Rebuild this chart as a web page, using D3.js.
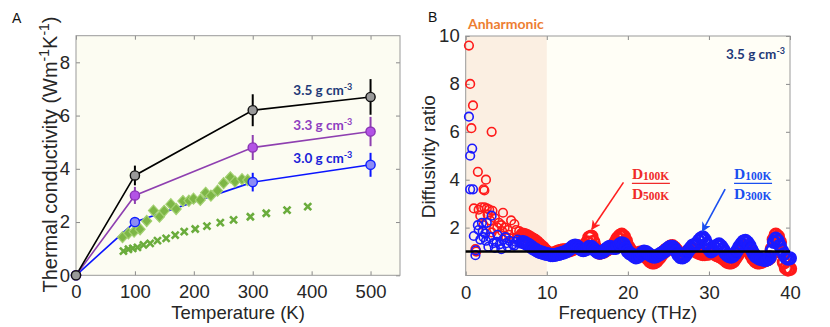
<!DOCTYPE html>
<html><head><meta charset="utf-8">
<script src="https://cdn.jsdelivr.net/npm/d3@7"></script>
<style>body{margin:0;background:#fff}</style>
</head><body><svg id="c" width="830" height="327"></svg>
<script>
// ---------- Panel A data ----------
const tempPts = [0, 100, 300, 500];
const k35 = [0, 3.75, 6.2, 6.7];
const err35 = [0, 0.37, 0.6, 0.67];
const k33 = [0, 3.0, 4.8, 5.4];
const err33 = [0, 0.32, 0.47, 0.55];
const k30 = [0, 2.0, 3.5, 4.15];
const err30 = [0, 0.15, 0.35, 0.45];
const diamT = [79, 89, 98.6, 108.8, 120, 131.5, 141.7, 149.7, 161, 170, 181.4, 191.6, 199.5, 211, 220, 229, 240.3, 250.5, 262, 270, 281.8, 291.4];
const diamK = [1.43, 1.58, 1.64, 1.73, 2.04, 2.43, 2.2, 2.42, 2.67, 2.49, 2.79, 2.8, 2.88, 2.83, 3.1, 2.99, 3.18, 3.46, 3.68, 3.52, 3.61, 3.58];
const crossT = [80.5, 89, 96.4, 104.3, 114.5, 125.9, 138.3, 153, 168.4, 183.7, 202.4, 222.3, 245, 267.5, 296, 323, 358.3, 393.4];
const crossK = [0.91, 0.98, 1.01, 1.05, 1.14, 1.2, 1.3, 1.39, 1.51, 1.64, 1.74, 1.85, 1.98, 2.08, 2.2, 2.33, 2.45, 2.58];
const tempTicks = [0, 100, 200, 300, 400, 500];
const kTicks = [0, 2, 4, 6, 8];

// ---------- Panel B data ----------
const freqTicks = [0, 10, 20, 30, 40];
const ratioTicks = [2, 4, 6, 8, 10];
const redLow = [[0.4,9.6],[0.55,8.0],[0.9,7.1],[0.7,6.15],[3.2,6.0],[1.5,4.33],[2.5,4.0],[2.2,3.6],[2.3,3.55],[1.0,2.8],[1.6,2.75],[1.9,2.85],[2.3,2.85],[2.6,2.8],[2.9,2.75],[3.3,2.7],[1.8,2.5],[2.7,2.55],[3.6,2.4],[4.6,2.62],[4.1,2.2],[5.6,2.3],[6.0,2.15],[3.9,2.0],[4.5,1.85],[5.2,1.9],[6.2,1.9],[6.6,1.85],[4.0,1.7],[3.5,1.95],[5.0,1.6],[5.8,1.55],[6.4,1.6],[6.9,1.65],[1.2,1.1],[1.3,1.0],[2.2,2.1],[3.0,2.3],[4.4,2.1],[5.3,1.7],[3.2,1.8],[4.8,2.0]];
const blueLow = [[0.4,6.63],[0.55,5.0],[0.8,5.3],[0.55,3.6],[0.9,3.6],[1.0,1.65],[1.2,0.85],[1.25,1.05],[1.5,2.1],[1.8,1.5],[2.0,2.2],[2.1,1.85],[2.4,1.75],[2.6,2.2],[2.8,1.2],[3.2,2.5],[2.5,1.45],[3.0,1.6],[3.4,1.35],[3.8,1.4],[4.2,1.3],[4.6,1.5],[5.0,1.35],[5.4,1.45],[5.8,1.3],[6.2,1.4],[6.6,1.35],[3.6,1.15],[4.4,1.1],[5.2,1.2],[6.0,1.25],[2.2,1.6],[1.6,1.9],[3.9,1.7],[4.9,1.6],[6.4,1.5]];
const redBand = [[7,1.70],[7.25,1.68],[7.5,1.65],[7.75,1.60],[8,1.55],[8.25,1.50],[8.5,1.45],[8.75,1.38],[9,1.30],[9.25,1.22],[9.5,1.15],[9.75,1.05],[10,0.98],[10.25,0.92],[10.5,0.90],[10.75,0.90],[11,0.93],[11.25,0.97],[11.5,1.00],[11.75,1.03],[12,1.05],[12.25,1.05],[12.5,1.05],[12.75,1.05],[13,1.08],[13.25,1.12],[13.5,1.18],[13.75,1.22],[14,1.20],[14.25,1.15],[14.5,1.12],[14.75,1.20],[15,1.38],[15.25,1.58],[15.5,1.62],[15.75,1.40],[16,1.15],[16.25,1.00],[16.5,0.95],[16.75,0.97],[17,1.00],[17.25,1.05],[17.5,1.10],[17.75,1.15],[18,1.20],[18.25,1.28],[18.5,1.40],[18.75,1.55],[19,1.65],[19.25,1.70],[19.5,1.62],[19.75,1.45],[20,1.22],[20.25,1.08],[20.5,0.98],[20.75,0.90],[21,0.85],[21.25,0.88],[21.5,0.95],[21.75,0.95],[22,0.90],[22.25,0.80],[22.5,0.70],[22.75,0.60],[23,0.55],[23.25,0.55],[23.5,0.60],[23.75,0.70],[24,0.80],[24.25,0.92],[24.5,1.00],[24.75,1.08],[25,1.12],[25.25,1.20],[25.5,1.22],[25.75,1.15],[26,1.05],[26.25,0.95],[26.5,0.88],[26.75,0.85],[27,0.88],[27.25,0.95],[27.5,1.02],[27.75,1.08],[28,1.10],[28.25,1.05],[28.5,1.00],[28.75,0.95],[29,0.92],[29.25,0.90],[29.5,0.90],[29.75,0.92],[30,0.92],[30.25,0.95],[30.5,0.95],[30.75,0.90],[31,0.85],[31.25,0.82],[31.5,0.78],[31.75,0.72],[32,0.65],[32.25,0.58],[32.5,0.55],[32.75,0.55],[33,0.60],[33.25,0.72],[33.5,0.85],[33.75,1.00],[34,1.10],[34.25,1.18],[34.5,1.20],[34.75,1.12],[35,1.00],[35.25,0.85],[35.5,0.70],[35.75,0.60],[36,0.55],[36.25,0.55],[36.5,0.58],[36.75,0.62],[37,0.65],[37.25,0.68],[37.5,0.75],[37.75,1.10],[38,1.50],[38.25,1.70],[38.5,1.62],[38.75,1.40],[39,0.95],[39.25,0.55],[39.5,0.32],[39.75,0.25],[40,0.28]];
const blueBand = [[7,1.40],[7.25,1.38],[7.5,1.32],[7.75,1.28],[8,1.22],[8.25,1.15],[8.5,1.10],[8.75,1.05],[9,1.00],[9.25,0.97],[9.5,0.95],[9.75,0.92],[10,0.90],[10.25,0.88],[10.5,0.85],[10.75,0.85],[11,0.86],[11.25,0.88],[11.5,0.90],[11.75,0.93],[12,0.95],[12.25,0.98],[12.5,1.02],[12.75,1.08],[13,1.15],[13.25,1.22],[13.5,1.25],[13.75,1.22],[14,1.15],[14.25,1.08],[14.5,1.05],[14.75,1.08],[15,1.12],[15.25,1.20],[15.5,1.20],[15.75,1.12],[16,1.05],[16.25,0.98],[16.5,0.95],[16.75,0.97],[17,1.00],[17.25,1.08],[17.5,1.15],[17.75,1.20],[18,1.18],[18.25,1.15],[18.5,1.15],[18.75,1.22],[19,1.30],[19.25,1.35],[19.5,1.32],[19.75,1.15],[20,1.00],[20.25,0.92],[20.5,0.88],[20.75,0.80],[21,0.75],[21.25,0.78],[21.5,0.85],[21.75,0.95],[22,1.00],[22.25,0.98],[22.5,0.92],[22.75,0.85],[23,0.80],[23.25,0.78],[23.5,0.80],[23.75,0.85],[24,0.90],[24.25,0.95],[24.5,1.00],[24.75,1.08],[25,1.15],[25.25,1.20],[25.5,1.20],[25.75,1.12],[26,1.00],[26.25,0.85],[26.5,0.76],[26.75,0.75],[27,0.80],[27.25,0.92],[27.5,1.05],[27.75,1.15],[28,1.25],[28.25,1.28],[28.5,1.32],[28.75,1.45],[29,1.55],[29.25,1.60],[29.5,1.50],[29.75,1.32],[30,1.10],[30.25,1.00],[30.5,1.05],[30.75,1.15],[31,1.25],[31.25,1.30],[31.5,1.22],[31.75,1.10],[32,0.95],[32.25,0.85],[32.5,0.80],[32.75,0.78],[33,0.82],[33.25,0.92],[33.5,1.05],[33.75,1.20],[34,1.32],[34.25,1.42],[34.5,1.45],[34.75,1.38],[35,1.25],[35.25,1.08],[35.5,0.92],[35.75,0.80],[36,0.75],[36.25,0.70],[36.5,0.68],[36.75,0.66],[37,0.65],[37.25,0.68],[37.5,0.75],[37.75,1.05],[38,1.40],[38.25,1.55],[38.5,1.45],[38.75,1.25],[39,1.05],[39.25,0.90],[39.5,0.75],[39.75,0.70],[40,0.72]];
const refLine = [[0,1],[40,1]];
const anharmonicRange = [0, 10];

const svg = d3.select('#c');
const tickFont = 'Liberation Sans, Arial, sans-serif';
const annFont = 'Lato, Open Sans, sans-serif';

function styleAxis(g, showText) {
  g.select('.domain').remove();
  g.selectAll('.tick line').attr('stroke', '#8a8a8a');
  g.selectAll('.tick text').attr('fill', '#262626').style('font-family', tickFont).style('font-size', '18.5px');
  if (!showText) g.selectAll('.tick text').remove();
}

// ================= Panel A =================
const xA = d3.scaleLinear([0, 550], [76, 400]);
const yA = d3.scaleLinear([0, 9], [275.3, 35.7]);
const gA = svg.append('g');
gA.append('rect').attr('x', xA(0)).attr('y', yA(9)).attr('width', xA(550) - xA(0)).attr('height', yA(0) - yA(9)).attr('fill', '#fcfcf2');
gA.append('g').attr('transform', `translate(0,${yA(0)})`).call(d3.axisBottom(xA).tickValues(tempTicks).tickSizeInner(-4).tickSizeOuter(0).tickPadding(10)).call(g => styleAxis(g, true));
gA.append('g').attr('transform', `translate(0,${yA(9)})`).call(d3.axisTop(xA).tickValues(tempTicks).tickSizeInner(-4).tickSizeOuter(0)).call(g => styleAxis(g, false));
gA.append('g').attr('transform', `translate(${xA(0)},0)`).call(d3.axisLeft(yA).tickValues(kTicks).tickSizeInner(-4).tickSizeOuter(0).tickPadding(6)).call(g => styleAxis(g, true));
gA.append('g').attr('transform', `translate(${xA(550)},0)`).call(d3.axisRight(yA).tickValues(kTicks).tickSizeInner(-4).tickSizeOuter(0)).call(g => styleAxis(g, false));
gA.append('rect').attr('x', xA(0)).attr('y', yA(9)).attr('width', xA(550) - xA(0)).attr('height', yA(0) - yA(9)).attr('fill', 'none').attr('stroke', '#9a9a9a').attr('stroke-width', 1);

const seriesA = [
  {k: k30, e: err30, line: '#0a14ff', fill: '#8c8cf5', stroke: '#1020ff'},
  {k: k33, e: err33, line: '#8e3fb0', fill: '#b353e6', stroke: '#8a35b5'},
  {k: k35, e: err35, line: '#000000', fill: '#999999', stroke: '#111111'}
];
const lineA = d3.line().x(d => xA(d[0])).y(d => yA(d[1]));
seriesA.forEach(s => {
  gA.append('path').datum(tempPts.map((t, i) => [t, s.k[i]])).attr('d', lineA).attr('fill', 'none').attr('stroke', s.line).attr('stroke-width', 1.6);
});
gA.append('g').selectAll('path').data(crossT.map((t, i) => [t, crossK[i]])).join('path')
  .attr('transform', d => `translate(${xA(d[0])},${yA(d[1])})`)
  .attr('d', 'M-3.5,-3.5L3.5,3.5M-3.5,3.5L3.5,-3.5').attr('stroke', '#6aac3c').attr('stroke-width', 2.6).attr('fill', 'none');
gA.append('g').selectAll('path').data(diamT.map((t, i) => [t, diamK[i]])).join('path')
  .attr('transform', d => `translate(${xA(d[0])},${yA(d[1])})`)
  .attr('d', 'M0,-5.5L5,0L0,5.5L-5,0Z').attr('fill', '#7db646').attr('stroke', '#a2d070').attr('stroke-width', 1.2);
seriesA.forEach(s => {
  const pts = tempPts.map((t, i) => ({t, k: s.k[i], e: s.e[i]}));
  gA.append('g').selectAll('line').data(pts.filter(p => p.e > 0)).join('line')
    .attr('x1', p => xA(p.t)).attr('x2', p => xA(p.t)).attr('y1', p => yA(p.k - p.e)).attr('y2', p => yA(p.k + p.e))
    .attr('stroke', s.line).attr('stroke-width', 2);
  gA.append('g').selectAll('circle').data(pts).join('circle')
    .attr('cx', p => xA(p.t)).attr('cy', p => yA(p.k)).attr('r', 4.6)
    .attr('fill', s.fill).attr('stroke', s.stroke).attr('stroke-width', 1.4);
});
const densLabels = [
  {txt: '3.5 g cm', T: 369, k: 6.78, c: '#1f3a78'},
  {txt: '3.3 g cm', T: 369, k: 5.44, c: '#8e3fc0'},
  {txt: '3.0 g cm', T: 369, k: 4.23, c: '#1a22d8'}
];
densLabels.forEach(l => {
  const t = gA.append('text').attr('x', xA(l.T)).attr('y', yA(l.k)).attr('fill', l.c)
    .style('font-family', annFont).style('font-weight', 'bold').style('font-size', '13.5px');
  t.append('tspan').text(l.txt);
  t.append('tspan').attr('dy', -5).style('font-size', '9px').text('-3');
});
gA.append('text').attr('x', (xA(0) + xA(550)) / 2).attr('y', 319).attr('text-anchor', 'middle')
  .attr('fill', '#262626').style('font-family', tickFont).style('font-size', '18.5px').text('Temperature (K)');
const ylA = gA.append('text').attr('transform', `translate(57,${(yA(0) + yA(9)) / 2 - 1}) rotate(-90)`).attr('text-anchor', 'middle')
  .attr('fill', '#262626').style('font-family', tickFont).style('font-size', '20px');
ylA.append('tspan').text('Thermal conductivity (Wm');
ylA.append('tspan').attr('dy', -8).style('font-size', '14px').text('-1');
ylA.append('tspan').attr('dy', 8).text('K');
ylA.append('tspan').attr('dy', -8).style('font-size', '14px').text('-1');
ylA.append('tspan').attr('dy', 8).text(')');
svg.append('text').attr('x', 12).attr('y', 23).style('font-family', tickFont).style('font-size', '14px').attr('fill', '#111').text('A');

// ================= Panel B =================
const xB = d3.scaleLinear([0, 40], [465.7, 790]);
const yB = d3.scaleLinear([0, 10], [275.5, 36]);
const gB = svg.append('g');
gB.append('rect').attr('x', xB(0)).attr('y', yB(10)).attr('width', xB(40) - xB(0)).attr('height', yB(0) - yB(10)).attr('fill', '#fffef6');
gB.append('rect').attr('x', xB(anharmonicRange[0])).attr('y', yB(10)).attr('width', xB(anharmonicRange[1]) - xB(anharmonicRange[0])).attr('height', yB(0) - yB(10)).attr('fill', '#fbefe2');
gB.append('g').attr('transform', `translate(0,${yB(0)})`).call(d3.axisBottom(xB).tickValues(freqTicks).tickSizeInner(-4).tickSizeOuter(0).tickPadding(10)).call(g => styleAxis(g, true));
gB.append('g').attr('transform', `translate(0,${yB(10)})`).call(d3.axisTop(xB).tickValues(freqTicks).tickSizeInner(-4).tickSizeOuter(0)).call(g => styleAxis(g, false));
gB.append('g').attr('transform', `translate(${xB(0)},0)`).call(d3.axisLeft(yB).tickValues(ratioTicks).tickSizeInner(-4).tickSizeOuter(0).tickPadding(6)).call(g => styleAxis(g, true));
gB.append('g').attr('transform', `translate(${xB(40)},0)`).call(d3.axisRight(yB).tickValues(ratioTicks).tickSizeInner(-4).tickSizeOuter(0)).call(g => styleAxis(g, false));
gB.append('rect').attr('x', xB(0)).attr('y', yB(10)).attr('width', xB(40) - xB(0)).attr('height', yB(0) - yB(10)).attr('fill', 'none').attr('stroke', '#9a9a9a').attr('stroke-width', 1);

function circles(data, color, r, sw) {
  gB.append('g').selectAll('circle').data(data).join('circle')
    .attr('cx', d => xB(d[0])).attr('cy', d => yB(d[1])).attr('r', r)
    .attr('fill', 'none').attr('stroke', color).attr('stroke-width', sw);
}
circles(redLow, '#ff1a1a', 4.3, 1.6);
circles(redBand, '#ff1a1a', 5.8, 2.8);
circles(blueLow, '#1a1aff', 4.3, 1.6);
circles(blueBand, '#1a1aff', 5.6, 2.8);
gB.append('path').datum(refLine).attr('d', d3.line().x(d => xB(d[0])).y(d => yB(d[1]))).attr('stroke', '#000').attr('stroke-width', 2.6);

const defs = svg.append('defs');
[['ar', '#ff2020'], ['ab', '#1a4ff0']].forEach(([id, c]) => {
  defs.append('marker').attr('id', id).attr('viewBox', '0 0 10 10').attr('refX', 9).attr('refY', 5)
    .attr('markerWidth', 6).attr('markerHeight', 6).attr('orient', 'auto')
    .append('path').attr('d', 'M0,0L10,5L0,10L3,5Z').attr('fill', c);
});
const arrows = [
  {f0: 19.46, v0: 3.89, f1: 15.56, v1: 1.93, id: 'ar', c: '#ff2020'},
  {f0: 32.0, v0: 3.61, f1: 29.2, v1: 1.85, id: 'ab', c: '#1a4ff0'}
];
arrows.forEach(a => {
  gB.append('line').attr('x1', xB(a.f0)).attr('y1', yB(a.v0)).attr('x2', xB(a.f1)).attr('y2', yB(a.v1))
    .attr('stroke', a.c).attr('stroke-width', 1.6).attr('marker-end', `url(#${a.id})`);
});
const fracs = [
  {f: 20.5, num: '100K', den: '500K', c: '#f02a2a'},
  {f: 33.1, num: '100K', den: '300K', c: '#1a4ff0'}
];
const serif = 'Liberation Serif, Times New Roman, serif';
fracs.forEach(fr => {
  const x0 = xB(fr.f);
  const n = gB.append('text').attr('x', x0).attr('y', 178.5).attr('fill', fr.c).style('font-family', serif).style('font-weight', 'bold').style('font-size', '15.5px');
  n.append('tspan').text('D');
  n.append('tspan').attr('dy', 1).style('font-size', '11.5px').text(fr.num);
  const d = gB.append('text').attr('x', x0).attr('y', 198.5).attr('fill', fr.c).style('font-family', serif).style('font-weight', 'bold').style('font-size', '15.5px');
  d.append('tspan').text('D');
  d.append('tspan').attr('dy', 1).style('font-size', '11.5px').text(fr.den);
  gB.append('line').attr('x1', x0).attr('x2', x0 + 38).attr('y1', 183.3).attr('y2', 183.3).attr('stroke', fr.c).attr('stroke-width', 1.2);
});
gB.append('text').attr('x', 468).attr('y', 29).attr('fill', '#ed7d31').style('font-family', annFont).style('font-weight', 'bold').style('font-size', '14px').text('Anharmonic');
const dl = gB.append('text').attr('x', 726).attr('y', 59).attr('fill', '#1f3a78').style('font-family', annFont).style('font-weight', 'bold').style('font-size', '13.5px');
dl.append('tspan').text('3.5 g cm');
dl.append('tspan').attr('dy', -5).style('font-size', '9px').text('-3');
gB.append('text').attr('x', (xB(0) + xB(40)) / 2).attr('y', 319).attr('text-anchor', 'middle')
  .attr('fill', '#262626').style('font-family', tickFont).style('font-size', '18.5px').text('Frequency (THz)');
gB.append('text').attr('transform', `translate(435,${(yB(0) + yB(10)) / 2 + 1}) rotate(-90)`).attr('text-anchor', 'middle')
  .attr('fill', '#262626').style('font-family', tickFont).style('font-size', '19px').text('Diffusivity ratio');
svg.append('text').attr('x', 428).attr('y', 22).style('font-family', tickFont).style('font-size', '14px').attr('fill', '#111').text('B');
</script></body></html>
